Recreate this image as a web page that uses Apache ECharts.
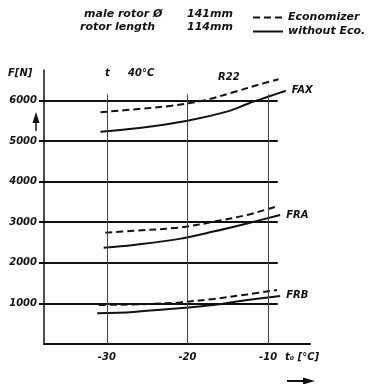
<!DOCTYPE html>
<html>
<head>
<meta charset="utf-8">
<script src="https://cdn.jsdelivr.net/npm/echarts@6/dist/echarts.min.js"></script>
<style>
  html, body { margin: 0; padding: 0; background: #fff; }
  #main { width: 369px; height: 384px; }
</style>
</head>
<body>
<div id="main"></div>
<script>
// evaporating temperature t0 [°C] and force F [N]
var xTicks = [-30, -20, -10];
var yTicks = [1000, 2000, 3000, 4000, 5000, 6000];
var gridEnd = -8.8;
var vLineTop = 6150;

var faxEcoT = [-30.8, -26, -22, -18, -14, -11, -8.7];
var faxEcoF = [5710, 5790, 5870, 6000, 6220, 6400, 6520];
var faxT = [-30.8, -26, -20, -15, -12.5, -10, -7.8];
var faxF = [5230, 5320, 5500, 5730, 5920, 6090, 6240];

var fraEcoT = [-30.2, -26.7, -21, -16.8, -12.6, -10.1, -8.7];
var fraEcoF = [2740, 2790, 2870, 3010, 3180, 3320, 3400];
var fraT = [-30.4, -26.7, -21, -16.8, -12.6, -8.5];
var fraF = [2370, 2440, 2590, 2770, 2970, 3180];

var frbEcoT = [-31, -25, -21, -16.8, -12.6, -8.9];
var frbEcoF = [960, 985, 1025, 1110, 1220, 1330];
var frbT = [-31.2, -26.7, -21, -16.8, -12.6, -8.5];
var frbF = [755, 790, 880, 960, 1085, 1185];

var FONT = 'DejaVu Sans';
var ink = '#111';

function pairs(xs, ys) {
  return xs.map(function (x, i) { return [x, ys[i]]; });
}

var chart = echarts.init(document.getElementById('main'));

function curve(name, xs, ys, dashed, label) {
  var s = {
    name: name,
    type: 'line',
    smooth: 0.35,
    symbol: 'none',
    silent: true,
    data: pairs(xs, ys),
    lineStyle: { color: ink, width: 2, type: dashed ? [7, 4] : 'solid' },
    itemStyle: { color: ink }
  };
  if (label) {
    s.endLabel = {
      show: true,
      formatter: label,
      distance: 6,
      color: ink,
      fontFamily: FONT,
      fontStyle: 'italic',
      fontWeight: 'bold',
      fontSize: 10
    };
  }
  return s;
}

var hLines = yTicks.map(function (v) {
  return [{ coord: [-37.8, v] }, { coord: [gridEnd, v] }];
});
var thin = { width: 1, color: '#444', type: 'solid' };
var vLines = xTicks.map(function (t) {
  return [{ coord: [t, 0], lineStyle: thin }, { coord: [t, vLineTop], lineStyle: thin }];
});

var series = [
  curve('Economizer', faxEcoT, faxEcoF, true),
  curve('without Eco.', faxT, faxF, false, 'FAX'),
  curve('Economizer', fraEcoT, fraEcoF, true),
  curve('without Eco.', fraT, fraF, false, 'FRA'),
  curve('Economizer', frbEcoT, frbEcoF, true),
  curve('without Eco.', frbT, frbF, false, 'FRB')
];
series[0].markLine = {
  silent: true,
  symbol: 'none',
  label: { show: false },
  lineStyle: { color: ink, width: 2, type: 'solid' },
  data: hLines.concat(vLines)
};

var txt = function (x, y, text, size) {
  return {
    type: 'text', x: x, y: y,
    style: {
      text: text, fill: ink, verticalAlign: 'middle',
      font: 'italic bold ' + (size || 10) + 'px "' + FONT + '"'
    }
  };
};

var option = {
  animation: false,
  backgroundColor: '#fff',
  grid: { left: 44, right: 59, top: 70, bottom: 40 },
  legend: {
    left: 247,
    top: 7,
    orient: 'vertical',
    itemWidth: 30,
    itemHeight: 10,
    itemGap: 3,
    itemStyle: { opacity: 0 },
    data: ['Economizer', 'without Eco.'],
    textStyle: { color: ink, fontFamily: FONT, fontStyle: 'italic', fontWeight: 'bold', fontSize: 11 }
  },
  xAxis: {
    type: 'value',
    min: -37.8,
    max: -4.8,
    axisLine: { lineStyle: { color: ink, width: 2 } },
    axisTick: { show: false },
    splitLine: { show: false },
    axisLabel: {
      customValues: xTicks,
      margin: 8,
      color: ink,
      fontFamily: FONT,
      fontStyle: 'italic',
      fontWeight: 'bold',
      fontSize: 10
    }
  },
  yAxis: {
    type: 'value',
    min: 0,
    max: 6750,
    axisLine: { show: true, lineStyle: { color: ink, width: 1.5 } },
    axisTick: { show: true, customValues: yTicks, length: 5, lineStyle: { color: ink, width: 2 } },
    splitLine: { show: false },
    axisLabel: {
      customValues: yTicks,
      formatter: function (v) { return String(v); },
      margin: 7,
      color: ink,
      fontFamily: FONT,
      fontStyle: 'italic',
      fontWeight: 'bold',
      fontSize: 10
    }
  },
  graphic: [
    txt(84, 14, 'male rotor \u00d8', 11),
    txt(187, 14, '141mm', 11),
    txt(80, 27, 'rotor length', 11),
    txt(187, 27, '114mm', 11),
    txt(8, 73, 'F[N]'),
    txt(105, 73, 't'),
    txt(128, 73, '40°C'),
    txt(218, 77, 'R22'),
    txt(285, 357, 't\u2080 [°C]'),
    { type: 'line', shape: { x1: 287, y1: 381, x2: 305, y2: 381 }, style: { stroke: ink, lineWidth: 2 } },
    { type: 'polygon', shape: { points: [[303, 377.5], [315, 381], [303, 384.5]] }, style: { fill: ink } },
    { type: 'polygon', shape: { points: [[32.5, 123], [36, 112], [39.5, 123]] }, style: { fill: ink } },
    { type: 'line', shape: { x1: 36, y1: 122, x2: 36, y2: 131 }, style: { stroke: ink, lineWidth: 1.5 } }
  ],
  series: series
};

chart.setOption(option);
</script>
</body>
</html>
